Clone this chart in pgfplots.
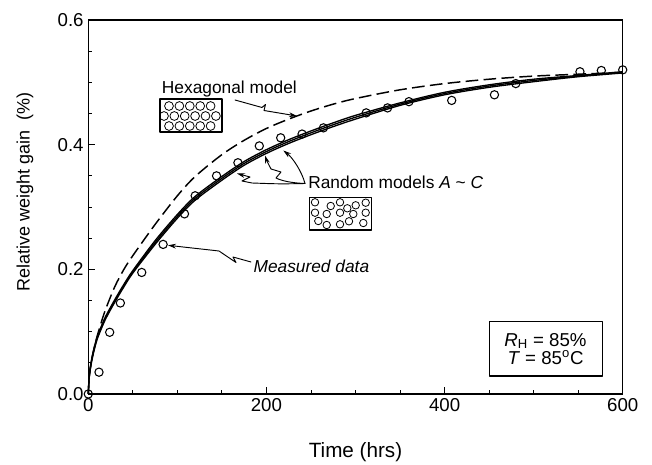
\documentclass[border=0pt]{standalone}
\usepackage{fontspec}
\setmainfont{Liberation Sans}
\usepackage{pgfplots}
\pgfplotsset{compat=1.18}
\usetikzlibrary{arrows.meta}
\newcommand{\annfont}{\fontsize{13}{15}\selectfont}

\pgfplotstableread{
t y
0 0
12 0.035
24 0.099
36 0.146
60 0.195
84 0.240
108 0.289
120 0.318
144 0.350
168 0.371
192 0.398
216 0.411
240 0.417
264 0.427
312 0.451
336 0.459
360 0.469
408 0.471
456 0.480
480 0.498
552 0.517
576 0.519
600 0.520
}\measured

\pgfplotstableread{
t a b c
0 0 0 0
1 0.028 0.027 0.026
3 0.050 0.048 0.046
6 0.071 0.069 0.067
10 0.092 0.090 0.088
15 0.110 0.108 0.106
20 0.126 0.124 0.122
30 0.152 0.150 0.148
40 0.176 0.174 0.172
50 0.198 0.196 0.194
75 0.246 0.243 0.240
100 0.288 0.285 0.282
120 0.317 0.314 0.311
150 0.349 0.346 0.343
175 0.373 0.370 0.367
200 0.392 0.389 0.386
225 0.408 0.405 0.402
250 0.422 0.419 0.416
275 0.435 0.432 0.429
300 0.447 0.444 0.441
350 0.467 0.465 0.463
400 0.484 0.482 0.480
450 0.496 0.494 0.492
500 0.505 0.503 0.501
550 0.511 0.510 0.509
600 0.517 0.516 0.515
}\randommodels

\pgfplotstableread{
t y
0 0
1 0.027
3 0.048
6 0.070
10 0.093
15 0.117
20 0.138
30 0.173
40 0.200
50 0.222
75 0.272
100 0.318
120 0.349
150 0.384
175 0.407
200 0.426
225 0.441
250 0.454
275 0.465
300 0.474
350 0.488
400 0.498
450 0.505
500 0.510
550 0.513
600 0.516
}\hexagonal

\begin{document}
\begin{tikzpicture}
\useasboundingbox (-66.225pt,-52.5pt) rectangle (422.775pt,295.5pt);
\begin{axis}[
  at={(0,0)}, anchor=south west,
  scale only axis, width=400.8pt, height=280.5pt,
  xmin=0, xmax=600, ymin=0, ymax=0.6,
  xtick={0,200,400,600}, ytick={0,0.2,0.4,0.6},
  minor x tick num=3, minor y tick num=3,
  tick pos=left, tick align=inside,
  major tick length=5pt, minor tick length=3pt,
  axis line style={line width=0.8pt},
  every tick/.style={line width=0.7pt, black},
  /pgf/number format/assume math mode=true,
  yticklabel style={/pgf/number format/fixed, /pgf/number format/precision=1, /pgf/number format/fixed zerofill, font=\fontsize{14}{16}\selectfont},
  xticklabel style={font=\fontsize{14}{16}\selectfont},
  xlabel={Time (hrs)}, ylabel={Relative weight gain\ \ (\%)},
  xlabel style={font=\fontsize{15.5}{18}\selectfont, at={(axis description cs:0.5,-0.155)}, anchor=center},
  ylabel style={font=\fontsize{13.5}{16}\selectfont, at={(axis description cs:-0.1185,0.54)}, anchor=center},
  clip=false,
]
\addplot[black, line width=1.1pt, dash pattern=on 9.5pt off 4pt, smooth] table[x=t, y=y] {\hexagonal};
\addplot[black, line width=1pt, smooth] table[x=t, y=a] {\randommodels};
\addplot[black, line width=1pt, smooth] table[x=t, y=b] {\randommodels};
\addplot[black, line width=1pt, smooth] table[x=t, y=c] {\randommodels};
\addplot[only marks, mark=o, mark size=3.1pt, mark options={fill=white, draw=black, line width=0.8pt}] table[x=t, y=y] {\measured};
\end{axis}

\begin{scope}[x=0.75pt, y=-0.75pt, xshift=-66.225pt, yshift=295.5pt, line cap=round, line join=round]
  % Hexagonal model label and icon
  \node[anchor=base west, inner sep=0, font=\annfont] at (161.7,93.3) {Hexagonal model};
  \draw[line width=0.8pt] (160,99) rectangle (222,132);
  \foreach \x in {169,179.4,189.8,200.2,210.6} {
    \draw[line width=0.6pt] (\x,106) circle[radius=3.3pt];
    \draw[line width=0.6pt] (\x,126) circle[radius=3.3pt];
  }
  \foreach \x in {164,174.3,184.7,195.1,205.5,215.9} {
    \draw[line width=0.6pt] (\x,116) circle[radius=3.3pt];
  }
  \draw[line width=0.7pt, -{Stealth[length=6pt, width=3.6pt]}] (235,100) -- (262,107.5) -- (265.5,104.5) -- (264,110.5) -- (297,116);

  % Random models label and icon
  \node[anchor=base west, inner sep=0, font=\annfont] at (308,188.5) {Random models \textit{A} \textasciitilde{} \textit{C}};
  \draw[line width=0.8pt] (309.3,197.3) rectangle (371.7,230);
  \foreach \p in {(315,202.3),(330.7,206),(340,202.3),(347.3,208.3),(355.7,205.3),(365.7,202.7),
                  (315,212.7),(326.7,214),(340,212.7),(353.3,214),(365.7,212.7),
                  (318.3,221),(326.7,225),(340,224.3),(349,221.3),(363.3,223)} {
    \draw[line width=0.6pt] \p circle[radius=2.8pt];
  }
  \draw[line width=0.7pt, -{Stealth[length=6pt, width=3.6pt]}] (305,183.5) .. controls (302,172) and (293,158) .. (283.3,150.5);
  \draw[line width=0.7pt, -{Stealth[length=6pt, width=3.6pt]}] (305,183.5) .. controls (292,183) and (282,181) .. (276,178) -- (281,172) -- (271,169) .. controls (268,165) .. (265,155.5);
  \draw[line width=0.7pt, -{Stealth[length=6pt, width=3.6pt]}] (305,183.5) .. controls (280,184) .. (252,183) -- (242,181) -- (250,177) -- (237,173.5);

  % Measured data label
  \node[anchor=base west, inner sep=0, font=\annfont\itshape] at (253.3,272.3) {Measured data};
  \draw[line width=0.7pt, -{Stealth[length=6pt, width=3.6pt]}] (251,262) -- (233,257) -- (236,262.5) -- (219,251) -- (168,245.3);

  % Conditions box
  \draw[line width=0.8pt] (489.3,321.7) rectangle (602.7,376);
  \node[align=center, inner sep=0, font=\fontsize{14}{13.7}\selectfont] at (545.5,348.8) {\textit{R}\textsubscript{H} = 85\%\\\textit{T} = 85\textsuperscript{o}C};
\end{scope}
\end{tikzpicture}
\end{document}
